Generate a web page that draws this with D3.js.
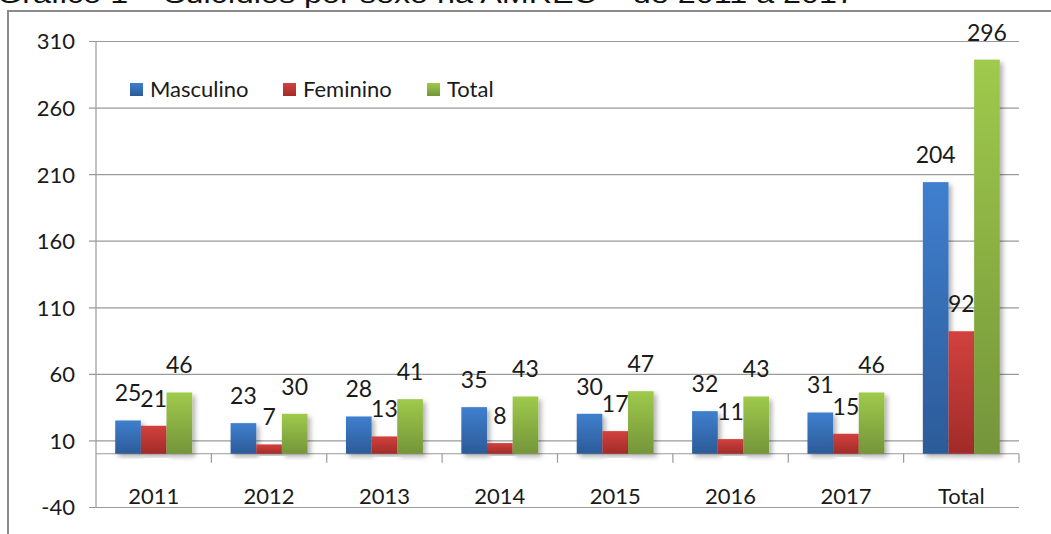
<!DOCTYPE html>
<html>
<head>
  <meta charset="UTF-8">
  <title>Suicídios por sexo na AMREC</title>
  <script src="https://cdn.jsdelivr.net/npm/d3@7"></script>
  <style>
    body { margin: 0; background: #fff; }
    text { font-family: Lato, "Open Sans", sans-serif; fill: #1a1a1a; }
  </style>
</head>
<body>
<svg width="1051" height="534"></svg>
<script>
var categories = ["2011", "2012", "2013", "2014", "2015", "2016", "2017", "Total"];
var seriesNames = ["Masculino", "Feminino", "Total"];
var masculino = [25, 23, 28, 35, 30, 32, 31, 204];
var feminino = [21, 7, 13, 8, 17, 11, 15, 92];
var total = [46, 30, 41, 43, 47, 43, 46, 296];
var yTicks = [-40, 10, 60, 110, 160, 210, 260, 310];

var colors = {
  Masculino: ["#3f7fcf", "#2c5b98"],
  Feminino: ["#d2413e", "#a12b29"],
  Total: ["#9fca4b", "#74953a"]
};

var svg = d3.select("svg");
var plotLeft = 96, plotRight = 1019, plotTop = 41, plotBottom = 507;

var y = d3.scaleLinear().domain([-40, 310]).range([plotBottom, plotTop]);
var x0 = d3.scaleBand().domain(categories).range([plotLeft, plotRight]);
var bw = x0.bandwidth();
var x1 = d3.scaleBand().domain(seriesNames).range([bw / 6, bw * 5 / 6]);

// title (cut off at the top in the source image)
svg.append("text")
  .attr("x", -3).attr("y", 3)
  .attr("textLength", 858)
  .attr("lengthAdjust", "spacingAndGlyphs")
  .style("font-family", "Liberation Sans, Arial, sans-serif")
  .style("font-size", "26px")
  .style("fill", "#111")
  .text("Gráfico 1 – Suicídios por sexo na AMREC – de 2011 a 2017");

// frame
svg.append("path")
  .attr("d", "M8,534 L8,11 L1051,11")
  .attr("fill", "none")
  .attr("stroke", "#8a8a8a")
  .attr("stroke-width", 2);

var defs = svg.append("defs");
seriesNames.forEach(function(s, i) {
  var g = defs.append("linearGradient")
    .attr("id", "grad" + i)
    .attr("x1", 0).attr("y1", 0).attr("x2", 0).attr("y2", 1);
  g.append("stop").attr("offset", "0%").attr("stop-color", colors[s][0]);
  g.append("stop").attr("offset", "100%").attr("stop-color", colors[s][1]);
});
defs.append("filter").attr("id", "shadow")
  .attr("x", "-20%").attr("y", "-5%").attr("width", "160%").attr("height", "120%")
  .append("feDropShadow")
  .attr("dx", 3).attr("dy", 3).attr("stdDeviation", 2.5)
  .attr("flood-color", "#000").attr("flood-opacity", 0.3);

// gridlines + y axis
var yAxis = d3.axisLeft(y)
  .tickValues(yTicks)
  .tickFormat(function(d) { return String(d); })
  .tickSize(-(plotRight - plotLeft) - 7)
  .tickPadding(14);
var gy = svg.append("g").attr("transform", "translate(" + (plotLeft - 7) + ",0)").call(yAxis);
gy.select(".domain").remove();
gy.selectAll(".tick line").attr("stroke", "#9a9a9a").attr("stroke-width", 1.2);
gy.selectAll(".tick text")
  .attr("x", -14).attr("dy", "0.36em")
  .style("font-size", "22px").style("font-family", "Lato, sans-serif").attr("fill", "#1a1a1a");

svg.append("line")
  .attr("x1", plotLeft).attr("x2", plotLeft).attr("y1", plotTop).attr("y2", plotBottom)
  .attr("stroke", "#9a9a9a").attr("stroke-width", 1.2);

// category axis at zero
svg.append("line")
  .attr("x1", plotLeft).attr("x2", plotRight).attr("y1", y(0)).attr("y2", y(0))
  .attr("stroke", "#9a9a9a").attr("stroke-width", 1.2);
svg.selectAll(".cattick")
  .data(categories.slice(1).concat(["end"]))
  .enter().append("line")
  .attr("x1", function(d) { return d === "end" ? plotRight : x0(d); })
  .attr("x2", function(d) { return d === "end" ? plotRight : x0(d); })
  .attr("y1", y(0)).attr("y2", y(0) + 9)
  .attr("stroke", "#9a9a9a").attr("stroke-width", 1.2);

svg.selectAll(".catlabel")
  .data(categories)
  .enter().append("text")
  .attr("x", function(d) { return x0(d) + bw / 2; })
  .attr("y", 504)
  .attr("text-anchor", "middle")
  .style("font-size", "22px")
  .text(function(d) { return d; });

// bars
var data = [masculino, feminino, total];
var groups = svg.selectAll(".cat")
  .data(categories)
  .enter().append("g")
  .attr("transform", function(d) { return "translate(" + x0(d) + ",0)"; });

seriesNames.forEach(function(s, si) {
  groups.append("rect")
    .attr("x", function(d) { return x1(s); })
    .attr("width", x1.bandwidth())
    .attr("y", function(d, i) { return y(data[si][i]); })
    .attr("height", function(d, i) { return y(0) - y(data[si][i]); })
    .attr("fill", "url(#grad" + si + ")")
    .attr("filter", "url(#shadow)");
});

seriesNames.forEach(function(s, si) {
  groups.append("text")
    .attr("x", function(d) { return x1(s) + x1.bandwidth() / 2; })
    .attr("y", function(d, i) { return y(data[si][i]) - 19; })
    .attr("text-anchor", "middle")
    .style("font-size", "23px")
    .text(function(d, i) { return data[si][i]; });
});

// legend
var legendX = [130, 283, 427];
var legend = svg.selectAll(".legend")
  .data(seriesNames)
  .enter().append("g")
  .attr("transform", function(d, i) { return "translate(" + legendX[i] + ",83)"; });
legend.append("rect")
  .attr("width", 13).attr("height", 13)
  .attr("fill", function(d, i) { return "url(#grad" + i + ")"; });
legend.append("text")
  .attr("x", 20).attr("y", 14)
  .style("font-size", "22px")
  .text(function(d) { return d; });
</script>
</body>
</html>
